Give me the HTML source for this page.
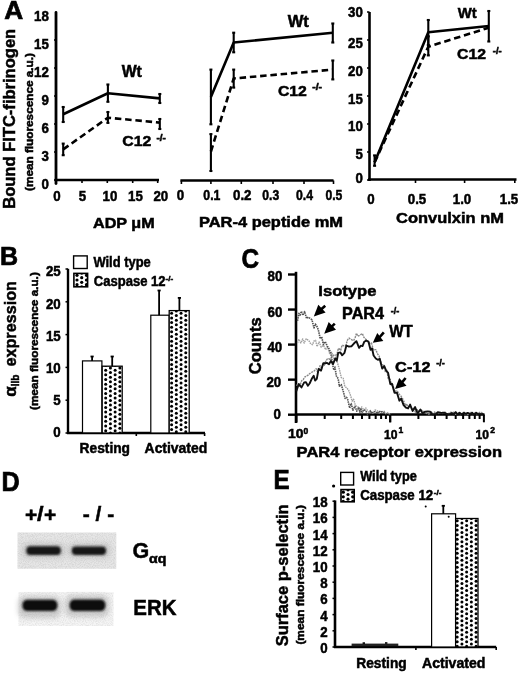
<!DOCTYPE html>
<html><head><meta charset="utf-8"><title>Figure</title>
<style>text{stroke:#000;stroke-width:0.5px}html,body{margin:0;padding:0;background:#fff;width:520px;height:674px;overflow:hidden}svg{display:block;filter:blur(0.3px)}</style>
</head><body>
<svg width="520" height="674" viewBox="0 0 520 674" font-family="Liberation Sans, sans-serif" font-weight="bold"><defs>
<pattern id="dots" x="0" y="0" width="9.4" height="4.7" patternUnits="userSpaceOnUse">
<circle cx="2.35" cy="1.2" r="1.35" fill="#000"/><circle cx="7.05" cy="3.55" r="1.35" fill="#000"/>
</pattern>
<filter id="noise" x="0" y="0" width="100%" height="100%">
<feTurbulence type="fractalNoise" baseFrequency="0.9" numOctaves="2" seed="3" result="t"/>
<feColorMatrix in="t" type="matrix" values="0 0 0 0 0.75  0 0 0 0 0.75  0 0 0 0 0.75  0 0 0 -1.6 1.0" result="n"/>
<feComposite in="n" in2="SourceGraphic" operator="in" result="m"/>
<feBlend in="m" in2="SourceGraphic" mode="multiply"/>
</filter>
<filter id="halo" x="-30%" y="-80%" width="160%" height="260%"><feGaussianBlur stdDeviation="2.5"/></filter>
<filter id="blur" x="-20%" y="-50%" width="140%" height="200%"><feGaussianBlur stdDeviation="1.2"/></filter>
</defs><rect width="520" height="674" fill="#fff"/><text x="4.24" y="19.0" font-size="25.87" textLength="18.94" lengthAdjust="spacingAndGlyphs" fill="#000" style="stroke-width:0.7px">A</text>
<text transform="translate(15.4,208.8) rotate(-90)" font-size="17.2" textLength="180" lengthAdjust="spacingAndGlyphs" fill="#000" >Bound FITC-fibrinogen</text>
<text transform="translate(33.2,191) rotate(-90)" font-size="11.3" textLength="138" lengthAdjust="spacingAndGlyphs" fill="#000" >(mean fluorescence a.u.)</text>
<line x1="56" y1="12.5" x2="56" y2="183.5" stroke="#000" stroke-width="2.8" stroke-linecap="round"/>
<line x1="54" y1="180" x2="56" y2="180" stroke="#000" stroke-width="1.5" />
<line x1="54" y1="152" x2="56" y2="152" stroke="#000" stroke-width="1.5" />
<line x1="54" y1="124" x2="56" y2="124" stroke="#000" stroke-width="1.5" />
<line x1="54" y1="96" x2="56" y2="96" stroke="#000" stroke-width="1.5" />
<line x1="54" y1="68" x2="56" y2="68" stroke="#000" stroke-width="1.5" />
<line x1="54" y1="40" x2="56" y2="40" stroke="#000" stroke-width="1.5" />
<text x="48.9" y="188.60000000000002" font-size="14" text-anchor="end" textLength="7.4" lengthAdjust="spacingAndGlyphs" fill="#000" >0</text>
<text x="48.9" y="160.65000000000003" font-size="14" text-anchor="end" textLength="7.4" lengthAdjust="spacingAndGlyphs" fill="#000" >3</text>
<text x="48.9" y="132.70000000000002" font-size="14" text-anchor="end" textLength="7.4" lengthAdjust="spacingAndGlyphs" fill="#000" >6</text>
<text x="48.9" y="104.75000000000001" font-size="14" text-anchor="end" textLength="7.4" lengthAdjust="spacingAndGlyphs" fill="#000" >9</text>
<text x="48.9" y="76.80000000000001" font-size="14" text-anchor="end" textLength="14.79" lengthAdjust="spacingAndGlyphs" fill="#000" >12</text>
<text x="48.9" y="48.85000000000001" font-size="14" text-anchor="end" textLength="14.79" lengthAdjust="spacingAndGlyphs" fill="#000" >15</text>
<text x="48.9" y="20.900000000000023" font-size="14" text-anchor="end" textLength="14.79" lengthAdjust="spacingAndGlyphs" fill="#000" >18</text>
<line x1="54.7" y1="180" x2="159" y2="180" stroke="#000" stroke-width="2.6" />
<line x1="82" y1="180" x2="82" y2="183" stroke="#000" stroke-width="1.6" />
<line x1="107.3" y1="180" x2="107.3" y2="183" stroke="#000" stroke-width="1.6" />
<line x1="132.7" y1="180" x2="132.7" y2="183" stroke="#000" stroke-width="1.6" />
<line x1="157.7" y1="180" x2="157.7" y2="183" stroke="#000" stroke-width="1.6" />
<text x="56.9" y="201.3" font-size="14" text-anchor="middle" textLength="7.4" lengthAdjust="spacingAndGlyphs" fill="#000" >0</text>
<text x="82.4" y="201.3" font-size="14" text-anchor="middle" textLength="7.4" lengthAdjust="spacingAndGlyphs" fill="#000" >5</text>
<text x="110" y="201.3" font-size="14" text-anchor="middle" textLength="14.79" lengthAdjust="spacingAndGlyphs" fill="#000" >10</text>
<text x="135.4" y="201.3" font-size="14" text-anchor="middle" textLength="14.79" lengthAdjust="spacingAndGlyphs" fill="#000" >15</text>
<text x="160.8" y="201.3" font-size="14" text-anchor="middle" textLength="14.79" lengthAdjust="spacingAndGlyphs" fill="#000" >20</text>
<text x="93.0" y="228.4" font-size="14.1" textLength="61.6" lengthAdjust="spacingAndGlyphs" fill="#000" >ADP μM</text>
<polyline points="63.2,114.2 107.9,93.2 159.8,98.4" fill="none" stroke="#000" stroke-width="2.6" stroke-linejoin="round" />
<polyline points="63.2,149.4 107.9,117.7 159.8,122.6" fill="none" stroke="#000" stroke-width="2.6" stroke-linejoin="round" stroke-dasharray="6.5,3.8"/>
<line x1="63.2" y1="107" x2="63.2" y2="122" stroke="#000" stroke-width="2.1" />
<line x1="61.7" y1="107" x2="64.7" y2="107" stroke="#000" stroke-width="2.1" />
<line x1="61.7" y1="122" x2="64.7" y2="122" stroke="#000" stroke-width="2.1" />
<line x1="107.9" y1="84.5" x2="107.9" y2="101.8" stroke="#000" stroke-width="2.1" />
<line x1="106.4" y1="84.5" x2="109.4" y2="84.5" stroke="#000" stroke-width="2.1" />
<line x1="106.4" y1="101.8" x2="109.4" y2="101.8" stroke="#000" stroke-width="2.1" />
<line x1="159.8" y1="94" x2="159.8" y2="103" stroke="#000" stroke-width="2.1" />
<line x1="158.3" y1="94" x2="161.3" y2="94" stroke="#000" stroke-width="2.1" />
<line x1="158.3" y1="103" x2="161.3" y2="103" stroke="#000" stroke-width="2.1" />
<line x1="63.2" y1="143.6" x2="63.2" y2="155.2" stroke="#000" stroke-width="2.1" />
<line x1="61.7" y1="143.6" x2="64.7" y2="143.6" stroke="#000" stroke-width="2.1" />
<line x1="61.7" y1="155.2" x2="64.7" y2="155.2" stroke="#000" stroke-width="2.1" />
<line x1="107.9" y1="112" x2="107.9" y2="122.9" stroke="#000" stroke-width="2.1" />
<line x1="106.4" y1="112" x2="109.4" y2="112" stroke="#000" stroke-width="2.1" />
<line x1="106.4" y1="122.9" x2="109.4" y2="122.9" stroke="#000" stroke-width="2.1" />
<line x1="159.8" y1="119" x2="159.8" y2="129" stroke="#000" stroke-width="2.1" />
<line x1="158.3" y1="119" x2="161.3" y2="119" stroke="#000" stroke-width="2.1" />
<line x1="158.3" y1="129" x2="161.3" y2="129" stroke="#000" stroke-width="2.1" />
<text x="121.7" y="76.7" font-size="15.6" textLength="20.2" lengthAdjust="spacingAndGlyphs" fill="#000" >Wt</text>
<text x="122.3" y="146" font-size="15" textLength="29" lengthAdjust="spacingAndGlyphs" fill="#000" >C12</text>
<text x="156.4" y="140.8" font-size="8.5" textLength="9.4" lengthAdjust="spacingAndGlyphs" fill="#000" >-/-</text>
<line x1="180.4" y1="180.5" x2="333.5" y2="180.5" stroke="#000" stroke-width="2.6" />
<line x1="181.4" y1="180.5" x2="181.4" y2="184" stroke="#000" stroke-width="1.6" />
<line x1="210.9" y1="180.5" x2="210.9" y2="184" stroke="#000" stroke-width="1.6" />
<line x1="241.3" y1="180.5" x2="241.3" y2="184" stroke="#000" stroke-width="1.6" />
<line x1="273" y1="180.5" x2="273" y2="184" stroke="#000" stroke-width="1.6" />
<line x1="304" y1="180.5" x2="304" y2="184" stroke="#000" stroke-width="1.6" />
<line x1="333.5" y1="180.5" x2="333.5" y2="184" stroke="#000" stroke-width="1.6" />
<text x="180.4" y="199.9" font-size="14" text-anchor="middle" textLength="7.4" lengthAdjust="spacingAndGlyphs" fill="#000" >0</text>
<text x="203.3" y="199.9" font-size="14" textLength="17.099999999999994" lengthAdjust="spacingAndGlyphs" fill="#000" >0.1</text>
<text x="233" y="199.9" font-size="14" textLength="18.5" lengthAdjust="spacingAndGlyphs" fill="#000" >0.2</text>
<text x="262.3" y="199.9" font-size="14" textLength="16.899999999999977" lengthAdjust="spacingAndGlyphs" fill="#000" >0.3</text>
<text x="296" y="199.9" font-size="14" textLength="17" lengthAdjust="spacingAndGlyphs" fill="#000" >0.4</text>
<text x="325.4" y="199.9" font-size="14" textLength="16.900000000000034" lengthAdjust="spacingAndGlyphs" fill="#000" >0.5</text>
<text x="199.0" y="226.7" font-size="14.3" textLength="144" lengthAdjust="spacingAndGlyphs" fill="#000" >PAR-4 peptide mM</text>
<polyline points="210.9,97.1 233.7,42.5 332.8,32.7" fill="none" stroke="#000" stroke-width="2.6" stroke-linejoin="round" />
<polyline points="210.9,151.5 233.7,78.5 332.8,69.6" fill="none" stroke="#000" stroke-width="2.6" stroke-linejoin="round" stroke-dasharray="6.5,3.8"/>
<line x1="210.9" y1="69.6" x2="210.9" y2="124.3" stroke="#000" stroke-width="2.1" />
<line x1="209.4" y1="69.6" x2="212.4" y2="69.6" stroke="#000" stroke-width="2.1" />
<line x1="209.4" y1="124.3" x2="212.4" y2="124.3" stroke="#000" stroke-width="2.1" />
<line x1="233.7" y1="32.7" x2="233.7" y2="52.3" stroke="#000" stroke-width="2.1" />
<line x1="232.2" y1="32.7" x2="235.2" y2="32.7" stroke="#000" stroke-width="2.1" />
<line x1="232.2" y1="52.3" x2="235.2" y2="52.3" stroke="#000" stroke-width="2.1" />
<line x1="332.8" y1="23.5" x2="332.8" y2="42.5" stroke="#000" stroke-width="2.1" />
<line x1="331.3" y1="23.5" x2="334.3" y2="23.5" stroke="#000" stroke-width="2.1" />
<line x1="331.3" y1="42.5" x2="334.3" y2="42.5" stroke="#000" stroke-width="2.1" />
<line x1="210.9" y1="134.1" x2="210.9" y2="171" stroke="#000" stroke-width="2.1" />
<line x1="209.4" y1="134.1" x2="212.4" y2="134.1" stroke="#000" stroke-width="2.1" />
<line x1="209.4" y1="171" x2="212.4" y2="171" stroke="#000" stroke-width="2.1" />
<line x1="233.7" y1="69.6" x2="233.7" y2="87.6" stroke="#000" stroke-width="2.1" />
<line x1="232.2" y1="69.6" x2="235.2" y2="69.6" stroke="#000" stroke-width="2.1" />
<line x1="232.2" y1="87.6" x2="235.2" y2="87.6" stroke="#000" stroke-width="2.1" />
<line x1="332.8" y1="60.5" x2="332.8" y2="79.4" stroke="#000" stroke-width="2.1" />
<line x1="331.3" y1="60.5" x2="334.3" y2="60.5" stroke="#000" stroke-width="2.1" />
<line x1="331.3" y1="79.4" x2="334.3" y2="79.4" stroke="#000" stroke-width="2.1" />
<text x="287.7" y="26.8" font-size="15.6" textLength="21.2" lengthAdjust="spacingAndGlyphs" fill="#000" >Wt</text>
<text x="277.9" y="95.5" font-size="15" textLength="29" lengthAdjust="spacingAndGlyphs" fill="#000" >C12</text>
<text x="312.2" y="89.8" font-size="8.5" textLength="9.8" lengthAdjust="spacingAndGlyphs" fill="#000" >-/-</text>
<line x1="369.5" y1="12" x2="369.5" y2="181" stroke="#000" stroke-width="2.6" />
<line x1="367" y1="180" x2="369.5" y2="180" stroke="#000" stroke-width="1.5" />
<text x="362.8" y="183.10000000000002" font-size="14" text-anchor="end" textLength="7.4" lengthAdjust="spacingAndGlyphs" fill="#000" >0</text>
<line x1="367" y1="152" x2="369.5" y2="152" stroke="#000" stroke-width="1.5" />
<text x="362.8" y="159.3" font-size="14" text-anchor="end" textLength="7.4" lengthAdjust="spacingAndGlyphs" fill="#000" >5</text>
<line x1="367" y1="124" x2="369.5" y2="124" stroke="#000" stroke-width="1.5" />
<text x="362.8" y="131.4" font-size="14" text-anchor="end" textLength="14.79" lengthAdjust="spacingAndGlyphs" fill="#000" >10</text>
<line x1="367" y1="96" x2="369.5" y2="96" stroke="#000" stroke-width="1.5" />
<text x="362.8" y="104.39999999999999" font-size="14" text-anchor="end" textLength="14.79" lengthAdjust="spacingAndGlyphs" fill="#000" >15</text>
<line x1="367" y1="68" x2="369.5" y2="68" stroke="#000" stroke-width="1.5" />
<text x="362.8" y="76.0" font-size="14" text-anchor="end" textLength="14.79" lengthAdjust="spacingAndGlyphs" fill="#000" >20</text>
<line x1="367" y1="40" x2="369.5" y2="40" stroke="#000" stroke-width="1.5" />
<text x="362.8" y="48.4" font-size="14" text-anchor="end" textLength="14.79" lengthAdjust="spacingAndGlyphs" fill="#000" >25</text>
<line x1="367" y1="12" x2="369.5" y2="12" stroke="#000" stroke-width="1.5" />
<text x="362.8" y="16.5" font-size="14" text-anchor="end" textLength="14.79" lengthAdjust="spacingAndGlyphs" fill="#000" >30</text>
<line x1="368" y1="179.5" x2="516.5" y2="179.5" stroke="#000" stroke-width="2.6" />
<line x1="415.5" y1="179.5" x2="415.5" y2="183" stroke="#000" stroke-width="1.6" />
<line x1="464.6" y1="179.5" x2="464.6" y2="183" stroke="#000" stroke-width="1.6" />
<line x1="514.8" y1="179.5" x2="514.8" y2="183" stroke="#000" stroke-width="1.6" />
<text x="371" y="204.2" font-size="14" text-anchor="middle" textLength="7.4" lengthAdjust="spacingAndGlyphs" fill="#000" >0</text>
<text x="417" y="204.2" font-size="14" text-anchor="middle" textLength="18.49" lengthAdjust="spacingAndGlyphs" fill="#000" >0.5</text>
<text x="462" y="204.2" font-size="14" text-anchor="middle" textLength="18.49" lengthAdjust="spacingAndGlyphs" fill="#000" >1.0</text>
<text x="509" y="204.2" font-size="14" text-anchor="middle" textLength="18.49" lengthAdjust="spacingAndGlyphs" fill="#000" >1.5</text>
<text x="396.13" y="223.05" font-size="15.24" textLength="107.78" lengthAdjust="spacingAndGlyphs" fill="#000" >Convulxin nM</text>
<polyline points="374.6,162.3 428.3,32.2 488.8,26.0" fill="none" stroke="#000" stroke-width="2.6" stroke-linejoin="round" />
<polyline points="374.6,162.3 428.3,46.7 488.8,27.7" fill="none" stroke="#000" stroke-width="2.6" stroke-linejoin="round" stroke-dasharray="6.5,3.8"/>
<line x1="374.6" y1="155.4" x2="374.6" y2="165.8" stroke="#000" stroke-width="2.1" />
<line x1="373.1" y1="155.4" x2="376.1" y2="155.4" stroke="#000" stroke-width="2.1" />
<line x1="373.1" y1="165.8" x2="376.1" y2="165.8" stroke="#000" stroke-width="2.1" />
<line x1="428.3" y1="20" x2="428.3" y2="45" stroke="#000" stroke-width="2.1" />
<line x1="426.8" y1="20" x2="429.8" y2="20" stroke="#000" stroke-width="2.1" />
<line x1="426.8" y1="45" x2="429.8" y2="45" stroke="#000" stroke-width="2.1" />
<line x1="488.8" y1="11" x2="488.8" y2="41.5" stroke="#000" stroke-width="2.1" />
<line x1="487.3" y1="11" x2="490.3" y2="11" stroke="#000" stroke-width="2.1" />
<line x1="487.3" y1="41.5" x2="490.3" y2="41.5" stroke="#000" stroke-width="2.1" />
<line x1="428.3" y1="36.3" x2="428.3" y2="55.4" stroke="#000" stroke-width="2.1" />
<line x1="426.8" y1="36.3" x2="429.8" y2="36.3" stroke="#000" stroke-width="2.1" />
<line x1="426.8" y1="55.4" x2="429.8" y2="55.4" stroke="#000" stroke-width="2.1" />
<text x="457.7" y="18" font-size="15" textLength="19" lengthAdjust="spacingAndGlyphs" fill="#000" >Wt</text>
<text x="457" y="58.8" font-size="15" textLength="29" lengthAdjust="spacingAndGlyphs" fill="#000" >C12</text>
<text x="492.8" y="54" font-size="8.2" textLength="8.8" lengthAdjust="spacingAndGlyphs" fill="#000" >-/-</text>
<text x="0.02" y="265.2" font-size="26.31" textLength="18.11" lengthAdjust="spacingAndGlyphs" fill="#000" style="stroke-width:0.7px">B</text>
<rect x="73.6" y="255.9" width="13.6" height="12.6" fill="#fff" stroke="#000" stroke-width="1.4" />
<rect x="73.9" y="273.4" width="13.7" height="13.4" fill="#fff"/>
<clipPath id="c132"><rect x="73.9" y="273.4" width="13.7" height="13.4"/></clipPath><g clip-path="url(#c132)" fill="#000"><circle cx="77.00" cy="275.35" r="1.6"/><circle cx="77.00" cy="280.00" r="1.6"/><circle cx="77.00" cy="284.65" r="1.6"/><circle cx="81.72" cy="273.03" r="1.6"/><circle cx="81.72" cy="277.68" r="1.6"/><circle cx="81.72" cy="282.32" r="1.6"/><circle cx="81.72" cy="286.97" r="1.6"/><circle cx="86.44" cy="275.35" r="1.6"/><circle cx="86.44" cy="280.00" r="1.6"/><circle cx="86.44" cy="284.65" r="1.6"/></g>
<rect x="73.9" y="273.4" width="13.7" height="13.4" fill="none" stroke="#000" stroke-width="1.6"/>
<text x="93.4" y="266.7" font-size="14.5" textLength="57.4" lengthAdjust="spacingAndGlyphs" fill="#000" >Wild type</text>
<text x="93.8" y="286.4" font-size="14.5" textLength="71.8" lengthAdjust="spacingAndGlyphs" fill="#000" >Caspase 12</text>
<text x="165.6" y="281" font-size="8" fill="#000" >-/-</text>
<text transform="translate(15.6,366.5) rotate(-90)" font-size="16.8" textLength="85.4" lengthAdjust="spacingAndGlyphs" fill="#000" >expression</text>
<text transform="translate(15.6,396.8) rotate(-90)" font-size="17" fill="#000" >α</text>
<text transform="translate(19.4,386.2) rotate(-90)" font-size="10" textLength="11.6" lengthAdjust="spacingAndGlyphs" fill="#000" >IIb</text>
<text transform="translate(38.4,410) rotate(-90)" font-size="11.3" textLength="137.8" lengthAdjust="spacingAndGlyphs" fill="#000" >(mean fluorescence a.u.)</text>
<line x1="68" y1="268.8" x2="68" y2="434" stroke="#000" stroke-width="2.4" />
<line x1="65.5" y1="433.0" x2="68" y2="433.0" stroke="#000" stroke-width="1.5" />
<text x="60.7" y="437.1" font-size="14" text-anchor="end" textLength="7.4" lengthAdjust="spacingAndGlyphs" fill="#000" >0</text>
<line x1="65.5" y1="400.2" x2="68" y2="400.2" stroke="#000" stroke-width="1.5" />
<text x="60.7" y="404.95000000000005" font-size="14" text-anchor="end" textLength="7.4" lengthAdjust="spacingAndGlyphs" fill="#000" >5</text>
<line x1="65.5" y1="367.4" x2="68" y2="367.4" stroke="#000" stroke-width="1.5" />
<text x="60.7" y="372.8" font-size="14" text-anchor="end" textLength="14.79" lengthAdjust="spacingAndGlyphs" fill="#000" >10</text>
<line x1="65.5" y1="334.6" x2="68" y2="334.6" stroke="#000" stroke-width="1.5" />
<text x="60.7" y="340.65000000000003" font-size="14" text-anchor="end" textLength="14.79" lengthAdjust="spacingAndGlyphs" fill="#000" >15</text>
<line x1="65.5" y1="301.8" x2="68" y2="301.8" stroke="#000" stroke-width="1.5" />
<text x="60.7" y="308.50000000000006" font-size="14" text-anchor="end" textLength="14.79" lengthAdjust="spacingAndGlyphs" fill="#000" >20</text>
<line x1="65.5" y1="269.0" x2="68" y2="269.0" stroke="#000" stroke-width="1.5" />
<text x="60.7" y="276.35" font-size="14" text-anchor="end" textLength="14.79" lengthAdjust="spacingAndGlyphs" fill="#000" >25</text>
<line x1="67" y1="433" x2="205" y2="433" stroke="#000" stroke-width="2.4" />
<line x1="136.3" y1="433" x2="136.3" y2="436" stroke="#000" stroke-width="1.6" />
<line x1="204.6" y1="433" x2="204.6" y2="436" stroke="#000" stroke-width="1.6" />
<rect x="82.5" y="360.9" width="19.4" height="72" fill="#fff" stroke="#000" stroke-width="1.2" />
<rect x="102.2" y="366.2" width="20" height="66.8" fill="#fff"/>
<clipPath id="c159"><rect x="102.2" y="366.2" width="20" height="66.8"/></clipPath><g clip-path="url(#c159)" fill="#000"><circle cx="105.70" cy="365.55" r="1.5"/><circle cx="105.70" cy="370.20" r="1.5"/><circle cx="105.70" cy="374.85" r="1.5"/><circle cx="105.70" cy="379.50" r="1.5"/><circle cx="105.70" cy="384.15" r="1.5"/><circle cx="105.70" cy="388.80" r="1.5"/><circle cx="105.70" cy="393.45" r="1.5"/><circle cx="105.70" cy="398.10" r="1.5"/><circle cx="105.70" cy="402.75" r="1.5"/><circle cx="105.70" cy="407.40" r="1.5"/><circle cx="105.70" cy="412.05" r="1.5"/><circle cx="105.70" cy="416.70" r="1.5"/><circle cx="105.70" cy="421.35" r="1.5"/><circle cx="105.70" cy="426.00" r="1.5"/><circle cx="105.70" cy="430.65" r="1.5"/><circle cx="110.42" cy="367.88" r="1.5"/><circle cx="110.42" cy="372.52" r="1.5"/><circle cx="110.42" cy="377.17" r="1.5"/><circle cx="110.42" cy="381.82" r="1.5"/><circle cx="110.42" cy="386.47" r="1.5"/><circle cx="110.42" cy="391.12" r="1.5"/><circle cx="110.42" cy="395.77" r="1.5"/><circle cx="110.42" cy="400.42" r="1.5"/><circle cx="110.42" cy="405.07" r="1.5"/><circle cx="110.42" cy="409.72" r="1.5"/><circle cx="110.42" cy="414.37" r="1.5"/><circle cx="110.42" cy="419.02" r="1.5"/><circle cx="110.42" cy="423.67" r="1.5"/><circle cx="110.42" cy="428.32" r="1.5"/><circle cx="110.42" cy="432.97" r="1.5"/><circle cx="115.14" cy="365.55" r="1.5"/><circle cx="115.14" cy="370.20" r="1.5"/><circle cx="115.14" cy="374.85" r="1.5"/><circle cx="115.14" cy="379.50" r="1.5"/><circle cx="115.14" cy="384.15" r="1.5"/><circle cx="115.14" cy="388.80" r="1.5"/><circle cx="115.14" cy="393.45" r="1.5"/><circle cx="115.14" cy="398.10" r="1.5"/><circle cx="115.14" cy="402.75" r="1.5"/><circle cx="115.14" cy="407.40" r="1.5"/><circle cx="115.14" cy="412.05" r="1.5"/><circle cx="115.14" cy="416.70" r="1.5"/><circle cx="115.14" cy="421.35" r="1.5"/><circle cx="115.14" cy="426.00" r="1.5"/><circle cx="115.14" cy="430.65" r="1.5"/><circle cx="119.86" cy="367.88" r="1.5"/><circle cx="119.86" cy="372.52" r="1.5"/><circle cx="119.86" cy="377.17" r="1.5"/><circle cx="119.86" cy="381.82" r="1.5"/><circle cx="119.86" cy="386.47" r="1.5"/><circle cx="119.86" cy="391.12" r="1.5"/><circle cx="119.86" cy="395.77" r="1.5"/><circle cx="119.86" cy="400.42" r="1.5"/><circle cx="119.86" cy="405.07" r="1.5"/><circle cx="119.86" cy="409.72" r="1.5"/><circle cx="119.86" cy="414.37" r="1.5"/><circle cx="119.86" cy="419.02" r="1.5"/><circle cx="119.86" cy="423.67" r="1.5"/><circle cx="119.86" cy="428.32" r="1.5"/><circle cx="119.86" cy="432.97" r="1.5"/></g>
<rect x="102.2" y="366.2" width="20" height="66.8" fill="none" stroke="#000" stroke-width="1.3"/>
<rect x="150.8" y="315.2" width="18.4" height="117.8" fill="#fff" stroke="#000" stroke-width="1.2" />
<rect x="169.2" y="310.6" width="20" height="122.4" fill="#fff"/>
<clipPath id="c163"><rect x="169.2" y="310.6" width="20" height="122.4"/></clipPath><g clip-path="url(#c163)" fill="#000"><circle cx="171.60" cy="313.25" r="1.5"/><circle cx="171.60" cy="317.90" r="1.5"/><circle cx="171.60" cy="322.55" r="1.5"/><circle cx="171.60" cy="327.20" r="1.5"/><circle cx="171.60" cy="331.85" r="1.5"/><circle cx="171.60" cy="336.50" r="1.5"/><circle cx="171.60" cy="341.15" r="1.5"/><circle cx="171.60" cy="345.80" r="1.5"/><circle cx="171.60" cy="350.45" r="1.5"/><circle cx="171.60" cy="355.10" r="1.5"/><circle cx="171.60" cy="359.75" r="1.5"/><circle cx="171.60" cy="364.40" r="1.5"/><circle cx="171.60" cy="369.05" r="1.5"/><circle cx="171.60" cy="373.70" r="1.5"/><circle cx="171.60" cy="378.35" r="1.5"/><circle cx="171.60" cy="383.00" r="1.5"/><circle cx="171.60" cy="387.65" r="1.5"/><circle cx="171.60" cy="392.30" r="1.5"/><circle cx="171.60" cy="396.95" r="1.5"/><circle cx="171.60" cy="401.60" r="1.5"/><circle cx="171.60" cy="406.25" r="1.5"/><circle cx="171.60" cy="410.90" r="1.5"/><circle cx="171.60" cy="415.55" r="1.5"/><circle cx="171.60" cy="420.20" r="1.5"/><circle cx="171.60" cy="424.85" r="1.5"/><circle cx="171.60" cy="429.50" r="1.5"/><circle cx="176.32" cy="310.93" r="1.5"/><circle cx="176.32" cy="315.57" r="1.5"/><circle cx="176.32" cy="320.22" r="1.5"/><circle cx="176.32" cy="324.87" r="1.5"/><circle cx="176.32" cy="329.52" r="1.5"/><circle cx="176.32" cy="334.17" r="1.5"/><circle cx="176.32" cy="338.82" r="1.5"/><circle cx="176.32" cy="343.47" r="1.5"/><circle cx="176.32" cy="348.12" r="1.5"/><circle cx="176.32" cy="352.77" r="1.5"/><circle cx="176.32" cy="357.42" r="1.5"/><circle cx="176.32" cy="362.07" r="1.5"/><circle cx="176.32" cy="366.72" r="1.5"/><circle cx="176.32" cy="371.37" r="1.5"/><circle cx="176.32" cy="376.02" r="1.5"/><circle cx="176.32" cy="380.67" r="1.5"/><circle cx="176.32" cy="385.32" r="1.5"/><circle cx="176.32" cy="389.97" r="1.5"/><circle cx="176.32" cy="394.62" r="1.5"/><circle cx="176.32" cy="399.27" r="1.5"/><circle cx="176.32" cy="403.92" r="1.5"/><circle cx="176.32" cy="408.57" r="1.5"/><circle cx="176.32" cy="413.22" r="1.5"/><circle cx="176.32" cy="417.87" r="1.5"/><circle cx="176.32" cy="422.52" r="1.5"/><circle cx="176.32" cy="427.17" r="1.5"/><circle cx="176.32" cy="431.82" r="1.5"/><circle cx="181.04" cy="313.25" r="1.5"/><circle cx="181.04" cy="317.90" r="1.5"/><circle cx="181.04" cy="322.55" r="1.5"/><circle cx="181.04" cy="327.20" r="1.5"/><circle cx="181.04" cy="331.85" r="1.5"/><circle cx="181.04" cy="336.50" r="1.5"/><circle cx="181.04" cy="341.15" r="1.5"/><circle cx="181.04" cy="345.80" r="1.5"/><circle cx="181.04" cy="350.45" r="1.5"/><circle cx="181.04" cy="355.10" r="1.5"/><circle cx="181.04" cy="359.75" r="1.5"/><circle cx="181.04" cy="364.40" r="1.5"/><circle cx="181.04" cy="369.05" r="1.5"/><circle cx="181.04" cy="373.70" r="1.5"/><circle cx="181.04" cy="378.35" r="1.5"/><circle cx="181.04" cy="383.00" r="1.5"/><circle cx="181.04" cy="387.65" r="1.5"/><circle cx="181.04" cy="392.30" r="1.5"/><circle cx="181.04" cy="396.95" r="1.5"/><circle cx="181.04" cy="401.60" r="1.5"/><circle cx="181.04" cy="406.25" r="1.5"/><circle cx="181.04" cy="410.90" r="1.5"/><circle cx="181.04" cy="415.55" r="1.5"/><circle cx="181.04" cy="420.20" r="1.5"/><circle cx="181.04" cy="424.85" r="1.5"/><circle cx="181.04" cy="429.50" r="1.5"/><circle cx="185.76" cy="310.93" r="1.5"/><circle cx="185.76" cy="315.57" r="1.5"/><circle cx="185.76" cy="320.22" r="1.5"/><circle cx="185.76" cy="324.87" r="1.5"/><circle cx="185.76" cy="329.52" r="1.5"/><circle cx="185.76" cy="334.17" r="1.5"/><circle cx="185.76" cy="338.82" r="1.5"/><circle cx="185.76" cy="343.47" r="1.5"/><circle cx="185.76" cy="348.12" r="1.5"/><circle cx="185.76" cy="352.77" r="1.5"/><circle cx="185.76" cy="357.42" r="1.5"/><circle cx="185.76" cy="362.07" r="1.5"/><circle cx="185.76" cy="366.72" r="1.5"/><circle cx="185.76" cy="371.37" r="1.5"/><circle cx="185.76" cy="376.02" r="1.5"/><circle cx="185.76" cy="380.67" r="1.5"/><circle cx="185.76" cy="385.32" r="1.5"/><circle cx="185.76" cy="389.97" r="1.5"/><circle cx="185.76" cy="394.62" r="1.5"/><circle cx="185.76" cy="399.27" r="1.5"/><circle cx="185.76" cy="403.92" r="1.5"/><circle cx="185.76" cy="408.57" r="1.5"/><circle cx="185.76" cy="413.22" r="1.5"/><circle cx="185.76" cy="417.87" r="1.5"/><circle cx="185.76" cy="422.52" r="1.5"/><circle cx="185.76" cy="427.17" r="1.5"/><circle cx="185.76" cy="431.82" r="1.5"/></g>
<rect x="169.2" y="310.6" width="20" height="122.4" fill="none" stroke="#000" stroke-width="1.3"/>
<line x1="92.1" y1="356.5" x2="92.1" y2="360.9" stroke="#000" stroke-width="1.8" />
<line x1="90.5" y1="356.5" x2="93.7" y2="356.5" stroke="#000" stroke-width="1.8" />
<line x1="112.2" y1="356.5" x2="112.2" y2="366.4" stroke="#000" stroke-width="1.8" />
<line x1="110.6" y1="356.5" x2="113.8" y2="356.5" stroke="#000" stroke-width="1.8" />
<line x1="159.1" y1="290.5" x2="159.1" y2="315.2" stroke="#000" stroke-width="1.8" />
<line x1="157.5" y1="290.5" x2="160.7" y2="290.5" stroke="#000" stroke-width="1.8" />
<line x1="179.4" y1="297.9" x2="179.4" y2="310.5" stroke="#000" stroke-width="1.8" />
<line x1="177.8" y1="297.9" x2="181" y2="297.9" stroke="#000" stroke-width="1.8" />
<text x="79.6" y="453.0" font-size="13.8" textLength="50.4" lengthAdjust="spacingAndGlyphs" fill="#000" >Resting</text>
<text x="144.6" y="453.0" font-size="13.8" textLength="62.6" lengthAdjust="spacingAndGlyphs" fill="#000" >Activated</text>
<text x="241.6" y="268.33" font-size="26.84" textLength="17.56" lengthAdjust="spacingAndGlyphs" fill="#000" style="stroke-width:0.7px">C</text>
<line x1="296" y1="271.8" x2="296" y2="423" stroke="#000" stroke-width="2.6" />
<line x1="288" y1="414.7" x2="296" y2="414.7" stroke="#000" stroke-width="2.4" />
<line x1="288" y1="379.65" x2="296" y2="379.65" stroke="#000" stroke-width="2.4" />
<line x1="288" y1="344.6" x2="296" y2="344.6" stroke="#000" stroke-width="2.4" />
<line x1="288" y1="309.55" x2="296" y2="309.55" stroke="#000" stroke-width="2.4" />
<line x1="288" y1="274.5" x2="296" y2="274.5" stroke="#000" stroke-width="2.4" />
<text x="282.4" y="280.5" font-size="14" text-anchor="end" textLength="14.79" lengthAdjust="spacingAndGlyphs" fill="#000" >80</text>
<text x="282.4" y="316.8" font-size="14" text-anchor="end" textLength="14.79" lengthAdjust="spacingAndGlyphs" fill="#000" >60</text>
<text x="282.2" y="351.6" font-size="14" text-anchor="end" textLength="14.79" lengthAdjust="spacingAndGlyphs" fill="#000" >40</text>
<text x="281.2" y="387.1" font-size="14" text-anchor="end" textLength="14.79" lengthAdjust="spacingAndGlyphs" fill="#000" >20</text>
<text x="281.0" y="418.8" font-size="14" text-anchor="end" textLength="7.4" lengthAdjust="spacingAndGlyphs" fill="#000" >0</text>
<text transform="translate(261.0,374.2) rotate(-90)" font-size="16.3" textLength="56.8" lengthAdjust="spacingAndGlyphs" fill="#000" >Counts</text>
<line x1="295" y1="414.5" x2="484.5" y2="414.5" stroke="#000" stroke-width="2.6" />
<line x1="296.5" y1="414.5" x2="296.5" y2="422.3" stroke="#000" stroke-width="2" />
<line x1="324.70651059371505" y1="414.5" x2="324.70651059371505" y2="419" stroke="#000" stroke-width="2" />
<line x1="341.2062615672324" y1="414.5" x2="341.2062615672324" y2="419" stroke="#000" stroke-width="2" />
<line x1="352.9130211874301" y1="414.5" x2="352.9130211874301" y2="419" stroke="#000" stroke-width="2" />
<line x1="361.993489406285" y1="414.5" x2="361.993489406285" y2="419" stroke="#000" stroke-width="2" />
<line x1="369.4127721609474" y1="414.5" x2="369.4127721609474" y2="419" stroke="#000" stroke-width="2" />
<line x1="375.68568634933587" y1="414.5" x2="375.68568634933587" y2="419" stroke="#000" stroke-width="2" />
<line x1="381.1195317811451" y1="414.5" x2="381.1195317811451" y2="419" stroke="#000" stroke-width="2" />
<line x1="385.9125231344648" y1="414.5" x2="385.9125231344648" y2="419" stroke="#000" stroke-width="2" />
<line x1="390.2" y1="414.5" x2="390.2" y2="422.3" stroke="#000" stroke-width="2" />
<line x1="390.2" y1="414.5" x2="390.2" y2="422.3" stroke="#000" stroke-width="2" />
<line x1="418.40651059371504" y1="414.5" x2="418.40651059371504" y2="419" stroke="#000" stroke-width="2" />
<line x1="434.9062615672324" y1="414.5" x2="434.9062615672324" y2="419" stroke="#000" stroke-width="2" />
<line x1="446.6130211874301" y1="414.5" x2="446.6130211874301" y2="419" stroke="#000" stroke-width="2" />
<line x1="455.6934894062849" y1="414.5" x2="455.6934894062849" y2="419" stroke="#000" stroke-width="2" />
<line x1="463.11277216094743" y1="414.5" x2="463.11277216094743" y2="419" stroke="#000" stroke-width="2" />
<line x1="469.38568634933586" y1="414.5" x2="469.38568634933586" y2="419" stroke="#000" stroke-width="2" />
<line x1="474.8195317811451" y1="414.5" x2="474.8195317811451" y2="419" stroke="#000" stroke-width="2" />
<line x1="479.6125231344647" y1="414.5" x2="479.6125231344647" y2="419" stroke="#000" stroke-width="2" />
<line x1="483.9" y1="414.5" x2="483.9" y2="422.3" stroke="#000" stroke-width="2" />
<text x="288" y="438" font-size="12.5" textLength="15.5" lengthAdjust="spacingAndGlyphs" fill="#000" >10</text>
<text x="303.6" y="433.8" font-size="8.5" fill="#000" >0</text>
<text x="384" y="438.5" font-size="12.5" textLength="13.5" lengthAdjust="spacingAndGlyphs" fill="#000" >10</text>
<text x="398.6" y="433.2" font-size="8.5" fill="#000" >1</text>
<text x="475.6" y="438.5" font-size="12.5" textLength="13.4" lengthAdjust="spacingAndGlyphs" fill="#000" >10</text>
<text x="490.2" y="433.2" font-size="8.5" fill="#000" >2</text>
<text x="296.6" y="457.0" font-size="15.3" textLength="205.4" lengthAdjust="spacingAndGlyphs" fill="#000" >PAR4 receptor expression</text>
<polyline points="297.5,342.9 298.8,339.2 300.8,343.0 302.7,338.9 304.1,343.1 306.2,338.7 308.0,340.1 309.2,341.2 310.8,344.1 312.6,344.7 313.8,341.2 315.6,340.3 317.0,346.6 319.1,341.9 321.2,347.2 323.6,345.3 325.6,349.7 327.4,346.8 329.6,353.5 331.8,352.3 334.1,359.5 335.6,358.6 336.9,361.1 339.2,368.6 341.3,377.5 343.2,378.4 344.7,386.1 346.6,387.8 348.6,390.1 350.7,396.0 352.2,401.2 353.6,399.2 355.0,404.0 356.7,406.7 358.3,407.2 359.6,409.9 361.7,406.9 363.9,410.1 365.9,408.0 368.2,411.7 369.8,412.6 371.2,412.3 372.9,413.1 375.1,409.9 377.2,410.7 379.1,413.1 380.9,410.9 382.8,411.8 384.1,411.3 386.0,413.7 387.9,412.5 389.1,413.7 391.1,414.1" fill="none" stroke="#a0a0a0" stroke-width="1.4" stroke-linejoin="round" stroke-dasharray="1.5,0.8"/>
<polyline points="297.5,320.8 298.9,313.4 300.1,315.1 301.4,311.3 302.9,315.3 304.6,311.5 306.6,318.4 308.4,317.1 310.0,318.3 312.0,319.8 314.0,327.9 315.4,324.1 317.5,327.5 318.7,331.4 320.2,338.7 321.7,336.7 323.4,344.6 325.2,341.6 327.3,346.2 329.2,349.1 330.9,353.5 332.8,365.6 333.9,370.1 335.0,367.1 336.3,375.9 338.2,378.7 339.3,386.2 341.3,384.6 343.4,391.8 345.1,398.4 346.6,397.4 347.6,398.9 349.7,408.0 351.2,403.5 352.9,410.3 354.9,406.3 356.8,411.1 358.8,407.6 359.9,412.3 361.0,408.3 362.1,413.2 363.8,409.7 365.7,410.6 367.4,414.1 369.0,413.6 370.4,410.7 372.1,413.3 373.9,411.7 375.7,411.5 377.6,413.6 379.1,411.5 380.5,412.2 382.0,411.8 383.4,412.2 385.0,412.9" fill="none" stroke="#505050" stroke-width="1.6" stroke-linejoin="round" stroke-dasharray="1.5,0.8"/>
<polyline points="296.3,384.7 298.0,385.9 299.6,386.2 301.7,380.7 303.2,379.7 304.7,377.1 306.8,375.8 308.4,374.9 310.6,372.8 312.5,371.8 313.9,371.2 316.2,368.7 317.8,372.7 320.0,365.7 321.7,368.7 323.1,364.0 324.3,365.3 325.8,361.1 327.4,358.8 329.1,358.8 330.6,360.2 332.2,355.3 333.5,355.1 335.6,355.7 337.2,353.1 338.4,348.3 340.8,350.2 342.0,345.2 344.1,345.8 346.0,345.1 347.4,340.1 349.1,338.1 350.3,339.1 352.4,340.2 353.7,340.4 355.2,337.5 356.5,333.2 357.8,336.2 360.2,335.0 362.3,333.5 364.0,337.5 365.3,338.6 367.5,341.4 368.7,341.8 370.2,343.6 371.5,343.0 373.4,350.0 375.7,349.6 377.7,354.1 379.2,356.2 381.5,364.4 383.6,364.7 385.4,372.2 386.9,370.3 388.2,378.6 390.2,379.3 391.5,386.0 392.8,384.7 394.7,391.5 396.1,390.8 397.3,391.2 399.5,394.5 401.3,396.5 403.3,399.9 405.4,405.7 406.6,403.8 408.4,408.5 409.8,405.3 411.6,408.9 413.8,408.5 415.4,412.3 416.9,408.9 418.2,411.7 420.4,410.2 422.6,410.7 424.9,412.1 427.1,413.7 428.4,414.1 429.8,413.8 431.6,411.8 432.8,413.6 434.6,412.0 435.9,413.6 437.5,412.0 439.4,414.0 441.0,411.9 443.3,413.7 445.4,412.2 446.8,414.1 448.7,413.6 450.1,412.1 452.4,412.5 454.0,412.3 455.6,414.3 457.6,413.8 458.8,412.8 461.0,414.2 463.3,412.8 465.1,414.0 467.2,414.4 469.2,414.2 471.1,412.3 473.4,414.0 475.6,412.5 477.1,413.9 479.5,412.4 481.2,412.4 482.8,413.7" fill="none" stroke="#888" stroke-width="1.4" stroke-linejoin="round" stroke-dasharray="2,0.8"/>
<polyline points="296.3,391.2 298.8,384.0 301.5,387.4 304.2,382.4 305.8,382.1 307.9,385.7 309.6,383.5 312.1,378.2 313.7,375.8 315.1,380.5 316.8,378.8 318.6,369.0 321.0,370.6 323.3,363.2 325.2,363.3 326.8,362.9 329.0,364.3 330.9,360.9 333.0,364.1 335.3,358.3 336.8,360.7 338.2,352.9 340.4,352.4 342.1,355.3 344.5,352.8 346.4,345.5 348.9,346.6 351.4,346.3 354.1,343.3 356.4,341.2 359.1,347.8 360.9,345.7 362.5,346.1 364.2,341.8 366.3,340.6 368.5,341.7 370.5,349.8 372.0,348.3 373.6,355.5 375.8,358.5 377.8,359.8 379.7,358.8 382.2,368.5 384.3,366.1 386.1,370.5 388.1,372.9 390.3,384.1 391.9,383.6 394.5,392.8 397.0,392.8 399.4,400.7 401.2,398.6 403.6,405.1 405.9,407.6 408.1,408.3 410.1,404.6 412.6,411.0 415.1,407.1 417.6,413.5 420.4,409.6 422.6,413.3 425.3,411.6 427.7,411.4 430.2,411.8 432.2,414.2 434.4,414.4 436.1,414.1 437.8,412.2 439.2,412.5 440.7,412.9 442.4,412.8 444.4,412.6 446.6,414.0 448.0,414.2 450.0,413.9 451.9,413.0 453.5,414.3 455.7,412.1 457.7,414.6 459.6,412.8 461.8,414.6 464.0,412.6 465.4,413.9 467.7,412.9 470.3,414.2 472.1,412.7 474.0,414.6 476.2,412.7 478.3,414.2 481.1,414.3 483.2,413.9" fill="none" stroke="#111" stroke-width="1.9" stroke-linejoin="round" />
<line x1="325.2" y1="305.8" x2="320.50952311990824" y2="310.03745319125403" stroke="#000" stroke-width="2.6" />
<polygon points="313.8,316.5 318.3,304.8 325.6,312.5" fill="#000"/>
<line x1="334.8" y1="323.6" x2="330.9095231199082" y2="327.33745319125404" stroke="#000" stroke-width="2.6" />
<polygon points="324.2,333.8 328.7,322.1 336.0,329.8" fill="#000"/>
<line x1="383.8" y1="332.3" x2="378.7178940317749" y2="338.22349528209406" stroke="#000" stroke-width="2.6" />
<polygon points="372.8,342.8 377.3,333.1 383.3,340.9" fill="#000"/>
<line x1="405.6" y1="378" x2="401.3847497518914" y2="383.16126474662997" stroke="#000" stroke-width="2.6" />
<polygon points="395.1,389 399.2,377.9 406.5,385.7" fill="#000"/>
<text x="318.39" y="295.7" font-size="15.4" textLength="58.08" lengthAdjust="spacingAndGlyphs" fill="#000" >Isotype</text>
<text x="342.12" y="319.1" font-size="15.84" textLength="41.87" lengthAdjust="spacingAndGlyphs" fill="#000" >PAR4</text>
<text x="390.8" y="314.2" font-size="9" fill="#000" >-/-</text>
<text x="389.28" y="337.4" font-size="17.01" textLength="23.58" lengthAdjust="spacingAndGlyphs" fill="#000" >WT</text>
<text x="395.13" y="372.44" font-size="15.54" textLength="35.33" lengthAdjust="spacingAndGlyphs" fill="#000" >C-12</text>
<text x="436.2" y="366.4" font-size="9" fill="#000" >-/-</text>
<text x="1.51" y="490.5" font-size="26.74" textLength="18.26" lengthAdjust="spacingAndGlyphs" fill="#000" style="stroke-width:0.7px">D</text>
<text x="25.0" y="522.2" font-size="21" fill="#000" style="stroke-width:0.5px">+</text>
<text x="37.0" y="520.6" font-size="21" textLength="6.6" lengthAdjust="spacingAndGlyphs" fill="#000" style="stroke-width:0.5px">/</text>
<text x="43.9" y="522.2" font-size="21" fill="#000" style="stroke-width:0.5px">+</text>
<text x="82.7" y="520.5" font-size="21" fill="#000" style="stroke-width:0.5px">- / -</text>
<rect x="17.5" y="532.5" width="98.8" height="36.3" fill="#e6e6e6" filter="url(#noise)"/>
<rect x="18.5" y="592" width="95" height="34" fill="#f5f5f5" filter="url(#noise)"/>
<g filter="url(#halo)" fill="#888" opacity="0.3"><rect x="22" y="543" width="43" height="15" rx="6"/><rect x="68" y="543" width="42" height="15" rx="6"/></g><g filter="url(#halo)" fill="#999" opacity="0.45"><rect x="18" y="596" width="43" height="22" rx="7"/><rect x="65" y="595" width="44" height="22" rx="7"/></g>
<rect x="26.3" y="546.2" width="34.5" height="8.8" rx="4" fill="#141414" filter="url(#blur)"/>
<rect x="71.8" y="546.4" width="34.2" height="8.6" rx="4" fill="#141414" filter="url(#blur)"/>
<rect x="22.4" y="599.7" width="35" height="11.4" rx="5" fill="#111" filter="url(#blur)"/>
<rect x="69.6" y="599.5" width="35.8" height="11.6" rx="5" fill="#111" filter="url(#blur)"/>
<text x="132.62" y="557.78" font-size="22.32" textLength="16.71" lengthAdjust="spacingAndGlyphs" fill="#000" >G</text>
<text x="149" y="562.5" font-size="12" textLength="17.3" lengthAdjust="spacingAndGlyphs" fill="#000" >αq</text>
<text x="133.3" y="615.4" font-size="21.5" textLength="43.2" lengthAdjust="spacingAndGlyphs" fill="#000" >ERK</text>
<text x="273.58" y="489.1" font-size="26.89" textLength="16.17" lengthAdjust="spacingAndGlyphs" fill="#000" style="stroke-width:0.7px">E</text>
<circle cx="333.6" cy="486" r="1.6" fill="#000"/>
<rect x="340.7" y="472.4" width="12.9" height="12.6" fill="#fff" stroke="#000" stroke-width="1.4" />
<rect x="341" y="489.6" width="13.2" height="12.2" fill="#fff"/>
<clipPath id="c253"><rect x="341" y="489.6" width="13.2" height="12.2"/></clipPath><g clip-path="url(#c253)" fill="#000"><circle cx="343.28" cy="492.18" r="1.6"/><circle cx="343.28" cy="496.82" r="1.6"/><circle cx="343.28" cy="501.47" r="1.6"/><circle cx="348.00" cy="489.85" r="1.6"/><circle cx="348.00" cy="494.50" r="1.6"/><circle cx="348.00" cy="499.15" r="1.6"/><circle cx="352.72" cy="492.18" r="1.6"/><circle cx="352.72" cy="496.82" r="1.6"/><circle cx="352.72" cy="501.47" r="1.6"/></g>
<rect x="341" y="489.6" width="13.2" height="12.2" fill="none" stroke="#000" stroke-width="1.6"/>
<text x="360.2" y="481.3" font-size="13.8" textLength="56.6" lengthAdjust="spacingAndGlyphs" fill="#000" >Wild type</text>
<text x="360.2" y="500.2" font-size="13.8" textLength="73" lengthAdjust="spacingAndGlyphs" fill="#000" >Caspase 12</text>
<text x="433.8" y="494.6" font-size="8" fill="#000" >-/-</text>
<text transform="translate(288.3,646.3) rotate(-90)" font-size="17" textLength="142" lengthAdjust="spacingAndGlyphs" fill="#000" >Surface p-selectin</text>
<text transform="translate(303.5,644.6) rotate(-90)" font-size="11.3" textLength="139.5" lengthAdjust="spacingAndGlyphs" fill="#000" >(mean fluorescence a.u.)</text>
<line x1="335" y1="500.4" x2="335" y2="648" stroke="#000" stroke-width="2.6" />
<line x1="332.5" y1="647.0" x2="335" y2="647.0" stroke="#000" stroke-width="1.5" />
<text x="327.6" y="652.9" font-size="14" text-anchor="end" textLength="7.4" lengthAdjust="spacingAndGlyphs" fill="#000" >0</text>
<line x1="332.5" y1="630.8" x2="335" y2="630.8" stroke="#000" stroke-width="1.5" />
<text x="327.6" y="636.7099999999999" font-size="14" text-anchor="end" textLength="7.4" lengthAdjust="spacingAndGlyphs" fill="#000" >2</text>
<line x1="332.5" y1="614.6" x2="335" y2="614.6" stroke="#000" stroke-width="1.5" />
<text x="327.6" y="620.52" font-size="14" text-anchor="end" textLength="7.4" lengthAdjust="spacingAndGlyphs" fill="#000" >4</text>
<line x1="332.5" y1="598.4" x2="335" y2="598.4" stroke="#000" stroke-width="1.5" />
<text x="327.6" y="604.3299999999999" font-size="14" text-anchor="end" textLength="7.4" lengthAdjust="spacingAndGlyphs" fill="#000" >6</text>
<line x1="332.5" y1="582.2" x2="335" y2="582.2" stroke="#000" stroke-width="1.5" />
<text x="327.6" y="588.14" font-size="14" text-anchor="end" textLength="7.4" lengthAdjust="spacingAndGlyphs" fill="#000" >8</text>
<line x1="332.5" y1="566.0" x2="335" y2="566.0" stroke="#000" stroke-width="1.5" />
<text x="327.6" y="571.9499999999999" font-size="14" text-anchor="end" textLength="14.79" lengthAdjust="spacingAndGlyphs" fill="#000" >10</text>
<line x1="332.5" y1="549.8" x2="335" y2="549.8" stroke="#000" stroke-width="1.5" />
<text x="327.6" y="555.76" font-size="14" text-anchor="end" textLength="14.79" lengthAdjust="spacingAndGlyphs" fill="#000" >12</text>
<line x1="332.5" y1="533.6" x2="335" y2="533.6" stroke="#000" stroke-width="1.5" />
<text x="327.6" y="539.5699999999999" font-size="14" text-anchor="end" textLength="14.79" lengthAdjust="spacingAndGlyphs" fill="#000" >14</text>
<line x1="332.5" y1="517.4" x2="335" y2="517.4" stroke="#000" stroke-width="1.5" />
<text x="327.6" y="523.38" font-size="14" text-anchor="end" textLength="14.79" lengthAdjust="spacingAndGlyphs" fill="#000" >16</text>
<line x1="332.5" y1="501.20000000000005" x2="335" y2="501.20000000000005" stroke="#000" stroke-width="1.5" />
<text x="327.6" y="507.19" font-size="14" text-anchor="end" textLength="14.79" lengthAdjust="spacingAndGlyphs" fill="#000" >18</text>
<line x1="334" y1="647" x2="496.2" y2="647" stroke="#000" stroke-width="2.6" />
<line x1="415.9" y1="647" x2="415.9" y2="650" stroke="#000" stroke-width="1.6" />
<line x1="496.2" y1="647" x2="496.2" y2="650" stroke="#000" stroke-width="1.6" />
<rect x="351.6" y="643.6" width="46.7" height="2.6" fill="#222"/>
<rect x="362.6" y="642.3" width="2.4" height="1.6" fill="#000"/><rect x="385" y="642.2" width="2.4" height="1.6" fill="#000"/>
<rect x="431.6" y="513.8" width="24" height="133.2" fill="#fff" stroke="#000" stroke-width="1.2" />
<rect x="455.6" y="518.5" width="22.4" height="128.5" fill="#fff"/>
<clipPath id="c288"><rect x="455.6" y="518.5" width="22.4" height="128.5"/></clipPath><g clip-path="url(#c288)" fill="#000"><circle cx="457.20" cy="520.75" r="1.5"/><circle cx="457.20" cy="525.40" r="1.5"/><circle cx="457.20" cy="530.05" r="1.5"/><circle cx="457.20" cy="534.70" r="1.5"/><circle cx="457.20" cy="539.35" r="1.5"/><circle cx="457.20" cy="544.00" r="1.5"/><circle cx="457.20" cy="548.65" r="1.5"/><circle cx="457.20" cy="553.30" r="1.5"/><circle cx="457.20" cy="557.95" r="1.5"/><circle cx="457.20" cy="562.60" r="1.5"/><circle cx="457.20" cy="567.25" r="1.5"/><circle cx="457.20" cy="571.90" r="1.5"/><circle cx="457.20" cy="576.55" r="1.5"/><circle cx="457.20" cy="581.20" r="1.5"/><circle cx="457.20" cy="585.85" r="1.5"/><circle cx="457.20" cy="590.50" r="1.5"/><circle cx="457.20" cy="595.15" r="1.5"/><circle cx="457.20" cy="599.80" r="1.5"/><circle cx="457.20" cy="604.45" r="1.5"/><circle cx="457.20" cy="609.10" r="1.5"/><circle cx="457.20" cy="613.75" r="1.5"/><circle cx="457.20" cy="618.40" r="1.5"/><circle cx="457.20" cy="623.05" r="1.5"/><circle cx="457.20" cy="627.70" r="1.5"/><circle cx="457.20" cy="632.35" r="1.5"/><circle cx="457.20" cy="637.00" r="1.5"/><circle cx="457.20" cy="641.65" r="1.5"/><circle cx="457.20" cy="646.30" r="1.5"/><circle cx="461.92" cy="518.43" r="1.5"/><circle cx="461.92" cy="523.08" r="1.5"/><circle cx="461.92" cy="527.73" r="1.5"/><circle cx="461.92" cy="532.38" r="1.5"/><circle cx="461.92" cy="537.02" r="1.5"/><circle cx="461.92" cy="541.67" r="1.5"/><circle cx="461.92" cy="546.32" r="1.5"/><circle cx="461.92" cy="550.97" r="1.5"/><circle cx="461.92" cy="555.62" r="1.5"/><circle cx="461.92" cy="560.27" r="1.5"/><circle cx="461.92" cy="564.92" r="1.5"/><circle cx="461.92" cy="569.57" r="1.5"/><circle cx="461.92" cy="574.22" r="1.5"/><circle cx="461.92" cy="578.87" r="1.5"/><circle cx="461.92" cy="583.52" r="1.5"/><circle cx="461.92" cy="588.17" r="1.5"/><circle cx="461.92" cy="592.82" r="1.5"/><circle cx="461.92" cy="597.47" r="1.5"/><circle cx="461.92" cy="602.12" r="1.5"/><circle cx="461.92" cy="606.77" r="1.5"/><circle cx="461.92" cy="611.42" r="1.5"/><circle cx="461.92" cy="616.07" r="1.5"/><circle cx="461.92" cy="620.72" r="1.5"/><circle cx="461.92" cy="625.37" r="1.5"/><circle cx="461.92" cy="630.02" r="1.5"/><circle cx="461.92" cy="634.67" r="1.5"/><circle cx="461.92" cy="639.32" r="1.5"/><circle cx="461.92" cy="643.97" r="1.5"/><circle cx="466.64" cy="520.75" r="1.5"/><circle cx="466.64" cy="525.40" r="1.5"/><circle cx="466.64" cy="530.05" r="1.5"/><circle cx="466.64" cy="534.70" r="1.5"/><circle cx="466.64" cy="539.35" r="1.5"/><circle cx="466.64" cy="544.00" r="1.5"/><circle cx="466.64" cy="548.65" r="1.5"/><circle cx="466.64" cy="553.30" r="1.5"/><circle cx="466.64" cy="557.95" r="1.5"/><circle cx="466.64" cy="562.60" r="1.5"/><circle cx="466.64" cy="567.25" r="1.5"/><circle cx="466.64" cy="571.90" r="1.5"/><circle cx="466.64" cy="576.55" r="1.5"/><circle cx="466.64" cy="581.20" r="1.5"/><circle cx="466.64" cy="585.85" r="1.5"/><circle cx="466.64" cy="590.50" r="1.5"/><circle cx="466.64" cy="595.15" r="1.5"/><circle cx="466.64" cy="599.80" r="1.5"/><circle cx="466.64" cy="604.45" r="1.5"/><circle cx="466.64" cy="609.10" r="1.5"/><circle cx="466.64" cy="613.75" r="1.5"/><circle cx="466.64" cy="618.40" r="1.5"/><circle cx="466.64" cy="623.05" r="1.5"/><circle cx="466.64" cy="627.70" r="1.5"/><circle cx="466.64" cy="632.35" r="1.5"/><circle cx="466.64" cy="637.00" r="1.5"/><circle cx="466.64" cy="641.65" r="1.5"/><circle cx="466.64" cy="646.30" r="1.5"/><circle cx="471.36" cy="518.43" r="1.5"/><circle cx="471.36" cy="523.08" r="1.5"/><circle cx="471.36" cy="527.73" r="1.5"/><circle cx="471.36" cy="532.38" r="1.5"/><circle cx="471.36" cy="537.02" r="1.5"/><circle cx="471.36" cy="541.67" r="1.5"/><circle cx="471.36" cy="546.32" r="1.5"/><circle cx="471.36" cy="550.97" r="1.5"/><circle cx="471.36" cy="555.62" r="1.5"/><circle cx="471.36" cy="560.27" r="1.5"/><circle cx="471.36" cy="564.92" r="1.5"/><circle cx="471.36" cy="569.57" r="1.5"/><circle cx="471.36" cy="574.22" r="1.5"/><circle cx="471.36" cy="578.87" r="1.5"/><circle cx="471.36" cy="583.52" r="1.5"/><circle cx="471.36" cy="588.17" r="1.5"/><circle cx="471.36" cy="592.82" r="1.5"/><circle cx="471.36" cy="597.47" r="1.5"/><circle cx="471.36" cy="602.12" r="1.5"/><circle cx="471.36" cy="606.77" r="1.5"/><circle cx="471.36" cy="611.42" r="1.5"/><circle cx="471.36" cy="616.07" r="1.5"/><circle cx="471.36" cy="620.72" r="1.5"/><circle cx="471.36" cy="625.37" r="1.5"/><circle cx="471.36" cy="630.02" r="1.5"/><circle cx="471.36" cy="634.67" r="1.5"/><circle cx="471.36" cy="639.32" r="1.5"/><circle cx="471.36" cy="643.97" r="1.5"/><circle cx="476.08" cy="520.75" r="1.5"/><circle cx="476.08" cy="525.40" r="1.5"/><circle cx="476.08" cy="530.05" r="1.5"/><circle cx="476.08" cy="534.70" r="1.5"/><circle cx="476.08" cy="539.35" r="1.5"/><circle cx="476.08" cy="544.00" r="1.5"/><circle cx="476.08" cy="548.65" r="1.5"/><circle cx="476.08" cy="553.30" r="1.5"/><circle cx="476.08" cy="557.95" r="1.5"/><circle cx="476.08" cy="562.60" r="1.5"/><circle cx="476.08" cy="567.25" r="1.5"/><circle cx="476.08" cy="571.90" r="1.5"/><circle cx="476.08" cy="576.55" r="1.5"/><circle cx="476.08" cy="581.20" r="1.5"/><circle cx="476.08" cy="585.85" r="1.5"/><circle cx="476.08" cy="590.50" r="1.5"/><circle cx="476.08" cy="595.15" r="1.5"/><circle cx="476.08" cy="599.80" r="1.5"/><circle cx="476.08" cy="604.45" r="1.5"/><circle cx="476.08" cy="609.10" r="1.5"/><circle cx="476.08" cy="613.75" r="1.5"/><circle cx="476.08" cy="618.40" r="1.5"/><circle cx="476.08" cy="623.05" r="1.5"/><circle cx="476.08" cy="627.70" r="1.5"/><circle cx="476.08" cy="632.35" r="1.5"/><circle cx="476.08" cy="637.00" r="1.5"/><circle cx="476.08" cy="641.65" r="1.5"/><circle cx="476.08" cy="646.30" r="1.5"/></g>
<rect x="455.6" y="518.5" width="22.4" height="128.5" fill="none" stroke="#000" stroke-width="1.3"/>
<line x1="443.3" y1="505.8" x2="443.3" y2="513.8" stroke="#000" stroke-width="1.8" />
<line x1="441.7" y1="505.8" x2="444.9" y2="505.8" stroke="#000" stroke-width="1.8" />
<circle cx="425.7" cy="506.5" r="1" fill="#000"/>
<circle cx="448.7" cy="516.8" r="1" fill="#000"/>
<text x="356.3" y="667.6" font-size="13.8" textLength="50.4" lengthAdjust="spacingAndGlyphs" fill="#000" >Resting</text>
<text x="422" y="667.6" font-size="13.8" textLength="63.3" lengthAdjust="spacingAndGlyphs" fill="#000" >Activated</text></svg>
</body></html>
